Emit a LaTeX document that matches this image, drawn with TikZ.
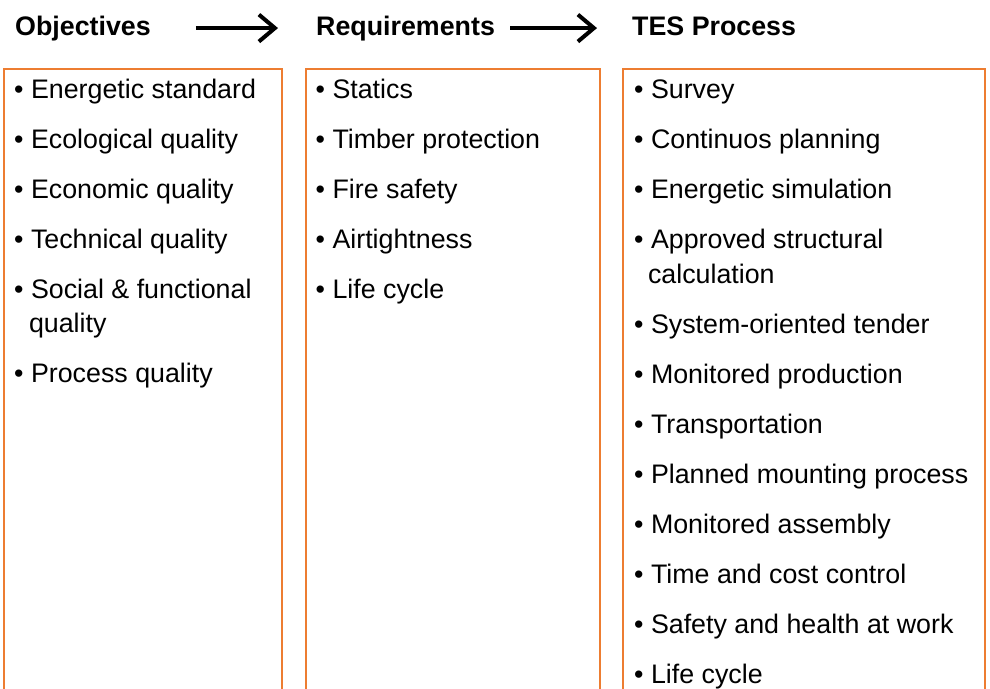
\documentclass[tikz,border=0pt]{standalone}
\usepackage{fontspec}
\setmainfont{Liberation Sans}
\usetikzlibrary{arrows.meta, positioning}
\definecolor{tesOrange}{RGB}{237,125,49}

\begin{document}
\begin{tikzpicture}[
    x=1pt, y=-1pt,
    head/.style={anchor=base west, inner sep=0pt, font=\fontsize{26.8}{30}\selectfont\bfseries},
    item/.style={anchor=base west, inner sep=0pt, font=\fontsize{26.8}{30}\selectfont},
    frame/.style={draw=tesOrange, line width=2pt},
    arrow/.style={-{Straight Barb[length=16pt, width=27pt]}, line width=4pt}
]
    \useasboundingbox (0,0) rectangle (990,688);

    % column headings
    \node[head] (objectives) at (15,35) {Objectives};
    \node[head] (requirements) at (316,35) {Requirements};
    \node[head] (tes) at (632,35) {TES Process};

    \draw[arrow] ([xshift=45pt]objectives.east) -- ([xshift=-38pt]objectives.east -| requirements.west);
    \draw[arrow] ([xshift=15pt]requirements.east) -- ([xshift=-35pt]requirements.east -| tes.west);

    % frames, open at the bottom
    \draw[frame] (4,690) |- (282,69) -- (282,690);
    \draw[frame] (306,690) |- (600,69) -- (600,690);
    \draw[frame] (623,690) |- (985,69) -- (985,690);

    % objectives
    \foreach \y/\txt [count=\i] in {98.5/Energetic standard, 148.5/Ecological quality, 198.5/Economic quality,
        248.5/Technical quality, 298.5/Social \& functional, 382.5/Process quality}
        \node[item] (obj\i) at (14,\y) {• \txt};
    \node[item] (obj5b) at ([xshift=-2pt, yshift=-34pt]obj5.base west) {\phantom{• }quality};

    % requirements
    \foreach \txt [count=\i from 0] in {Statics, Timber protection, Fire safety, Airtightness, Life cycle}
        \node[item] (req\i) at (315.5,98.5+50*\i) {• \txt};

    % TES process
    \foreach \y/\txt [count=\i] in {98.5/Survey, 148.5/Continuos planning, 198.5/Energetic simulation,
        248.5/Approved structural, 333.5/System-oriented tender, 383.5/Monitored production,
        433.5/Transportation, 483.5/Planned mounting process, 533.5/Monitored assembly,
        583.5/Time and cost control, 633.5/Safety and health at work, 683.5/Life cycle}
        \node[item] (tes\i) at (634,\y) {• \txt};
    \node[item] (tes4b) at ([xshift=-3pt, yshift=-35pt]tes4.base west) {\phantom{• }calculation};
\end{tikzpicture}
\end{document}
